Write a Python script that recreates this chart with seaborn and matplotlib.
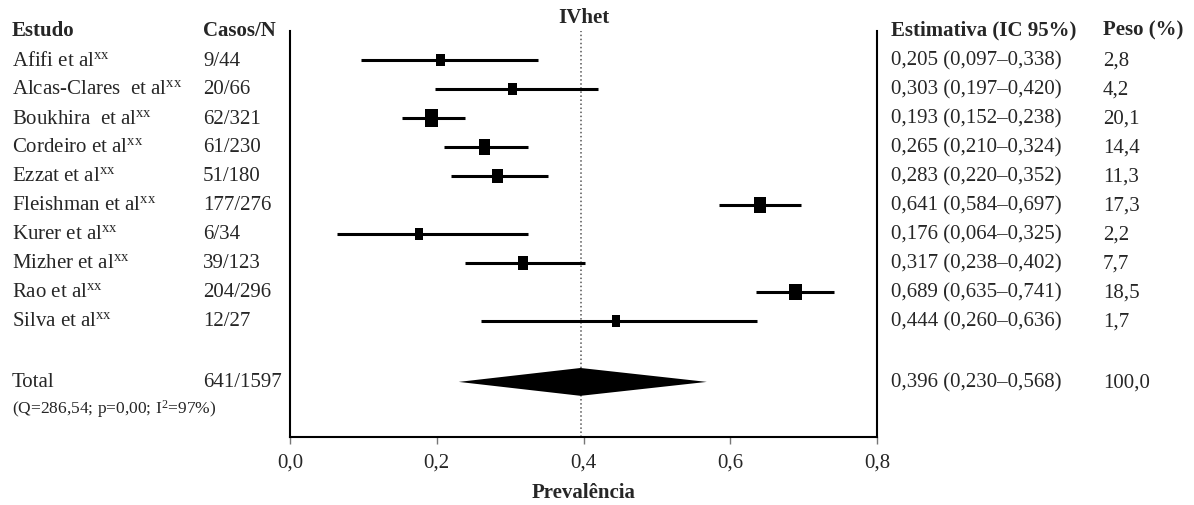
import matplotlib
matplotlib.use("Agg")
import matplotlib.pyplot as plt
import matplotlib.transforms as mtransforms
from matplotlib.path import Path
import seaborn as sns

# data
estudos = ["Afifi et al", "Alcas-Clares  et al", "Boukhira  et al", "Cordeiro et al",
           "Ezzat et al", "Fleishman et al", "Kurer et al", "Mizher et al",
           "Rao et al", "Silva et al"]
casos = ["9/44", "20/66", "62/321", "61/230", "51/180", "177/276", "6/34",
         "39/123", "204/296", "12/27"]
estimativa = [0.205, 0.303, 0.193, 0.265, 0.283, 0.641, 0.176, 0.317, 0.689, 0.444]
ic_inf = [0.097, 0.197, 0.152, 0.210, 0.220, 0.584, 0.064, 0.238, 0.635, 0.260]
ic_sup = [0.338, 0.420, 0.238, 0.324, 0.352, 0.697, 0.325, 0.402, 0.741, 0.636]
peso = [2.8, 4.2, 20.1, 14.4, 11.3, 17.3, 2.2, 7.7, 18.5, 1.7]

total_casos = "641/1597"
total_est = 0.396
total_inf = 0.230
total_sup = 0.568
total_peso = 100.0
het_texto = "(Q=286,54; p=0,00; I$^{2}$=97%)"

x_ticks = [0.0, 0.2, 0.4, 0.6, 0.8]


def fmt(v, d=3):
    return f"{v:.{d}f}".replace(".", ",")


sns.set_theme(style="white")
plt.rcParams["font.family"] = ["Liberation Serif", "DejaVu Serif"]
plt.rcParams["mathtext.fontset"] = "custom"
plt.rcParams["mathtext.rm"] = "Liberation Serif"
plt.rcParams["mathtext.it"] = "Liberation Serif:italic"
plt.rcParams["mathtext.bf"] = "Liberation Serif:bold"

FS = 15

fig = plt.figure(figsize=(11.94, 5.06), dpi=100)
ax = fig.add_axes([290 / 1194, 68 / 506, 587 / 1194, 406 / 506])

rows = list(range(len(estudos)))
total_row = 11.1

# confidence intervals
ax.hlines(rows, ic_inf, ic_sup, color="black", lw=2.2)

# study squares sized by weight
rect = Path([(-0.37, -0.5), (0.37, -0.5), (0.37, 0.5), (-0.37, 0.5), (-0.37, -0.5)],
            [Path.MOVETO, Path.LINETO, Path.LINETO, Path.LINETO, Path.CLOSEPOLY])
sns.scatterplot(x=estimativa, y=rows, size=peso, sizes=(63, 150), marker=rect,
                color="black", linewidth=0, legend=False, ax=ax, zorder=3)

# pooled diamond
ax.fill([total_inf, total_est, total_sup, total_est],
        [total_row, total_row - 0.48, total_row, total_row + 0.48],
        color="black", lw=0, zorder=3)

# pooled estimate line
ax.axvline(total_est, color="#555555", ls=":", lw=1.1, zorder=1)

ax.set_xlim(0, 0.8)
ax.set_ylim(13, -1)
ax.set_xticks(x_ticks)
ax.set_xticklabels([fmt(t, 1) for t in x_ticks], fontsize=FS)
ax.set_yticks([])
ax.tick_params(axis="x", direction="out", length=5, width=1, color="#777777",
               bottom=True, pad=6)
for side in ["left", "right", "bottom"]:
    ax.spines[side].set_color("black")
    ax.spines[side].set_linewidth(1.5)
ax.spines["top"].set_visible(False)

# table text
tr = mtransforms.blended_transform_factory(fig.transFigure, ax.transData)
cols = {"estudo": 12 / 1194, "casos": 203 / 1194, "est": 891 / 1194, "peso": 1103 / 1194}

header_row = -1.05
ax.text(cols["estudo"], header_row, "Estudo", transform=tr, fontsize=FS,
        fontweight="bold", va="center", clip_on=False)
ax.text(cols["casos"], header_row, "Casos/N", transform=tr, fontsize=FS,
        fontweight="bold", va="center", clip_on=False)
ax.text(cols["est"], header_row, "Estimativa (IC 95%)", transform=tr, fontsize=FS,
        fontweight="bold", va="center", clip_on=False)
ax.text(cols["peso"], header_row, "Peso (%)", transform=tr, fontsize=FS,
        fontweight="bold", va="center", clip_on=False)

for i in rows:
    ax.text(cols["estudo"], i, estudos[i] + r"$^{\mathrm{xx}}$", transform=tr,
            fontsize=FS, va="center", clip_on=False)
    ax.text(cols["casos"], i, casos[i], transform=tr, fontsize=FS, va="center",
            clip_on=False)
    ax.text(cols["est"], i,
            f"{fmt(estimativa[i])} ({fmt(ic_inf[i])}\u2013{fmt(ic_sup[i])})",
            transform=tr, fontsize=FS, va="center", clip_on=False)
    ax.text(cols["peso"], i, fmt(peso[i], 1), transform=tr, fontsize=FS,
            va="center", clip_on=False)

ax.text(cols["estudo"], total_row, "Total", transform=tr, fontsize=FS,
        va="center", clip_on=False)
ax.text(cols["casos"], total_row, total_casos, transform=tr, fontsize=FS,
        va="center", clip_on=False)
ax.text(cols["est"], total_row,
        f"{fmt(total_est)} ({fmt(total_inf)}\u2013{fmt(total_sup)})",
        transform=tr, fontsize=FS, va="center", clip_on=False)
ax.text(cols["peso"], total_row, fmt(total_peso, 1), transform=tr, fontsize=FS,
        va="center", clip_on=False)
ax.text(cols["estudo"], 12.0, het_texto, transform=tr, fontsize=12.5,
        va="center", clip_on=False)

fig.text(583.5 / 1194, 1 - 18 / 506, "IVhet", fontsize=FS, fontweight="bold",
         ha="center", va="center")
fig.text(583.5 / 1194, 1 - 493 / 506, "Prevalência", fontsize=FS, fontweight="bold",
         ha="center", va="center")

fig.savefig("out.png", dpi=100)
plt.close(fig)
